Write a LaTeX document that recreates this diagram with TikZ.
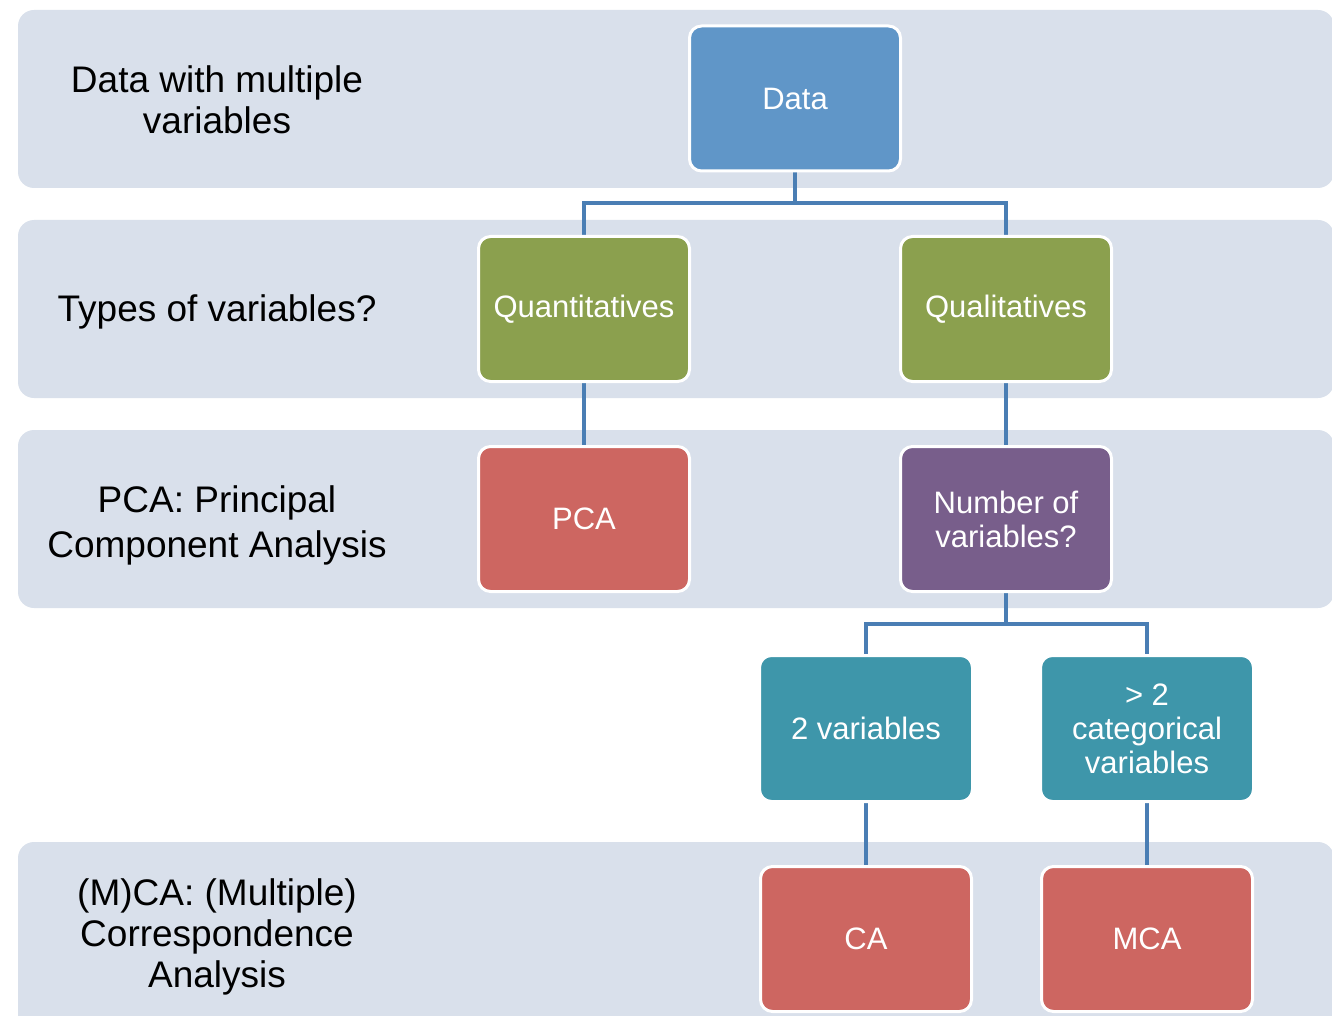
\documentclass[tikz,border=0pt]{standalone}
\usepackage{fontspec}
\setmainfont{Liberation Sans}
\usetikzlibrary{backgrounds}
\definecolor{bandc}{RGB}{217,224,235}
\definecolor{bluec}{RGB}{96,150,200}
\definecolor{greenc}{RGB}{139,160,78}
\definecolor{redc}{RGB}{205,102,97}
\definecolor{purplec}{RGB}{120,94,139}
\definecolor{tealc}{RGB}{62,150,170}
\definecolor{linec}{RGB}{74,126,180}
\begin{document}
\begin{tikzpicture}[x=1pt,y=-1pt,
  band/.style={fill=bandc, rounded corners=16pt},
  box/.style={rectangle, rounded corners=12pt, draw=white, line width=3pt,
    minimum width=211pt, minimum height=145pt, text=white, align=center,
    font=\fontsize{31}{34}\selectfont, inner sep=0pt},
  smallbox/.style={box, minimum width=213pt, minimum height=146pt},
  lab/.style={align=center, font=\fontsize{37}{41}\selectfont, text=black, inner sep=0pt},
  conn/.style={draw=linec, line width=4pt}]
\useasboundingbox (0,0) rectangle (1332,1016);
% boxes
\node[box, fill=bluec] (data) at (795,98.5) {Data};
\node[box, fill=greenc] (quant) at (584,309) {Quantitatives};
\node[box, fill=greenc] (qual) at (1006,309) {Qualitatives};
\node[box, fill=redc] (pca) at (584,519) {PCA};
\node[box, fill=purplec] (num) at (1006,519) {Number of\\variables?};
\node[smallbox, fill=tealc] (two) at (866,728.5) {2 variables};
\node[smallbox, fill=tealc] (gt) at (1147,728.5) {> 2\\categorical\\variables};
\node[box, fill=redc] (ca) at (866,939) {CA};
\node[box, fill=redc] (mca) at (1147,939) {MCA};
% labels
\node[lab] (l1) at (217,99.5) {Data with multiple\\variables};
\node[lab] (l2) at (217,312) {Types of variables?};
\node[lab, font=\fontsize{37}{45}\selectfont] (l3) at (217,525) {PCA: Principal\\Component Analysis};
\node[lab] (l4) at (217,936.5) {(M)CA: (Multiple)\\Correspondence\\Analysis};
\begin{scope}[on background layer]
  \fill[band] (18,10) rectangle (1334,188);
  \fill[band] (18,220) rectangle (1334,398);
  \fill[band] (18,430) rectangle (1334,608);
  \fill[band] (18,842) rectangle (1334,1040);
  \draw[conn] (data.south) -- ++(0,30.5) -| (quant.north);
  \draw[conn] (data.south) -- ++(0,30.5) -| (qual.north);
  \draw[conn] (quant.south) -- (pca.north);
  \draw[conn] (qual.south) -- (num.north);
  \draw[conn] (num.south) -- ++(0,31) -| (two.north);
  \draw[conn] (num.south) -- ++(0,31) -| (gt.north);
  \draw[conn] (two.south) -- (ca.north);
  \draw[conn] (gt.south) -- (mca.north);
\end{scope}
\end{tikzpicture}
\end{document}
